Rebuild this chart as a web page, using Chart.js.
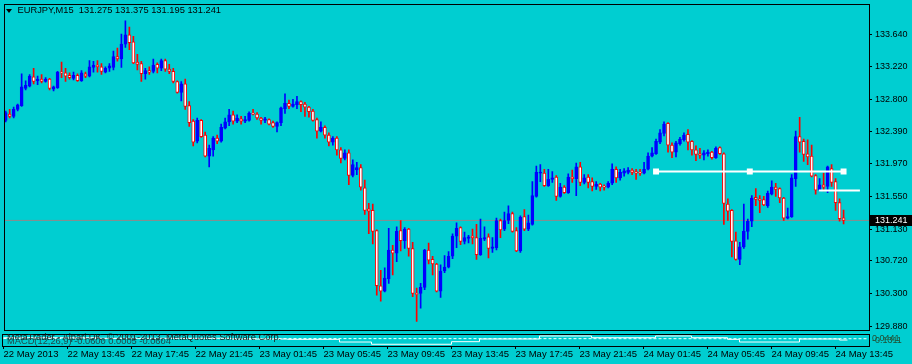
<!DOCTYPE html>
<html>
<head>
<meta charset="utf-8">
<script src="https://cdn.jsdelivr.net/npm/chart.js@4.4.0/dist/chart.umd.min.js"></script>
<style>
  body { margin: 0; background: #00ced1; width: 912px; height: 364px; overflow: hidden; position: relative; font-family: 'Liberation Sans', Arial, sans-serif; }
  canvas { position: absolute; left: 0; }
  #main { top: 0; }
  #macd { top: 333px; }
  .txt { position: absolute; white-space: nowrap; font-size: 9.3px; line-height: 11px; color: #000; }
  #tri { position: absolute; left: 6px; top: 9px; width: 0; height: 0; border-left: 3px solid transparent; border-right: 3px solid transparent; border-top: 4px solid #000; }
</style>
</head>
<body>
<canvas id="main" width="912" height="334"></canvas>
<canvas id="macd" width="912" height="31"></canvas>
<div id="tri"></div>
<div id="title" class="txt" style="left:17.5px;top:5.3px"></div>
<div class="txt" style="left:7px;top:332.3px;color:#1a1a1a">MetaTrader - Alpari UK, © 2001-2013, MetaQuotes Software Corp.</div>
<div class="txt" style="left:7px;top:335.8px;color:#204848">MACD(12,26,9) -0.0600 0.0005 -0.0604</div>
<div class="txt" style="left:872px;top:333.1px;font-size:9px;color:#214f33">0.0441</div>
<div class="txt" style="left:872px;top:335.4px;font-size:9px;color:#214f33">-0.1311</div>
<script>
const symbol = 'EURJPY';
const period = 'M15';

// M15 candles, 22 May 09:45 .. 24 May 14:15
const opens = [
  132.53, 132.61, 132.58, 132.67, 132.72, 132.94, 132.97, 133.09, 133.04, 133.06,
  133.03, 133.06, 132.93, 132.95, 133.15, 133.14, 133.11, 133.07, 133.11, 133.04,
  133.13, 133.10, 133.21, 133.24, 133.22, 133.15, 133.20, 133.21, 133.35, 133.32,
  133.51, 133.63, 133.54, 133.28, 133.26, 133.13, 133.17, 133.16, 133.25, 133.20,
  133.30, 133.19, 133.16, 133.03, 132.89, 133.00, 132.72, 132.52, 132.26, 132.53,
  132.34, 132.07, 132.15, 132.30, 132.26, 132.43, 132.51, 132.60, 132.52, 132.55,
  132.52, 132.53, 132.62, 132.61, 132.56, 132.53, 132.54, 132.50, 132.45, 132.50,
  132.68, 132.75, 132.71, 132.73, 132.77, 132.74, 132.70, 132.65, 132.54, 132.39,
  132.44, 132.34, 132.25, 132.30, 132.15, 132.04, 132.11, 131.82, 131.89, 131.92,
  131.66, 131.39, 131.37, 131.11, 130.40, 130.33, 130.49, 130.86, 130.82, 131.11,
  130.98, 131.13, 130.88, 130.30, 130.30, 130.38, 130.86, 130.74, 130.68, 130.33,
  130.59, 130.64, 130.78, 131.04, 131.15, 130.97, 131.01, 131.04, 131.02, 130.80,
  131.00, 131.03, 130.88, 130.89, 131.24, 131.13, 131.24, 131.33, 131.11, 130.85,
  131.29, 131.13, 131.19, 131.55, 131.85, 131.85, 131.69, 131.77, 131.80, 131.55,
  131.67, 131.60, 131.80, 131.78, 131.93, 131.73, 131.80, 131.74, 131.68, 131.71,
  131.68, 131.67, 131.72, 131.90, 131.79, 131.85, 131.86, 131.89, 131.87, 131.86,
  131.85, 131.90, 132.07, 132.10, 132.25, 132.36, 132.49, 132.21, 132.12, 132.23,
  132.28, 132.35, 132.26, 132.15, 132.10, 132.08, 132.10, 132.12, 132.05, 132.18,
  132.10, 131.45, 131.37, 130.98, 130.74, 130.90, 131.10, 131.23, 131.54, 131.52,
  131.51, 131.43, 131.58, 131.67, 131.65, 131.53, 131.27, 131.29, 131.78, 132.32,
  132.26, 132.10, 132.07, 131.82, 131.63, 131.70, 131.68, 131.91, 131.74, 131.47,
  131.275
];
const highs = [
  132.65, 132.67, 132.70, 132.74, 133.13, 133.04, 133.12, 133.20, 133.10, 133.12,
  133.08, 133.07, 132.97, 133.16, 133.28, 133.20, 133.14, 133.15, 133.13, 133.17,
  133.15, 133.30, 133.29, 133.30, 133.26, 133.22, 133.26, 133.42, 133.46, 133.64,
  133.81, 133.73, 133.61, 133.38, 133.29, 133.20, 133.22, 133.32, 133.27, 133.32,
  133.32, 133.25, 133.20, 133.04, 133.03, 133.06, 132.77, 132.54, 132.56, 132.54,
  132.38, 132.21, 132.32, 132.34, 132.48, 132.56, 132.67, 132.65, 132.60, 132.58,
  132.58, 132.64, 132.67, 132.63, 132.57, 132.57, 132.55, 132.52, 132.51, 132.70,
  132.87, 132.79, 132.80, 132.84, 132.78, 132.76, 132.71, 132.67, 132.56, 132.51,
  132.46, 132.37, 132.32, 132.32, 132.18, 132.15, 132.15, 132.02, 131.99, 131.96,
  131.76, 131.46, 131.45, 131.12, 130.60, 130.63, 131.14, 130.92, 131.16, 131.24,
  131.15, 131.14, 130.96, 130.37, 130.43, 130.87, 130.95, 130.78, 130.69, 130.67,
  130.79, 130.84, 131.07, 131.21, 131.16, 131.09, 131.05, 131.13, 131.19, 131.26,
  131.16, 131.07, 131.02, 131.27, 131.26, 131.35, 131.43, 131.35, 131.15, 131.30,
  131.38, 131.31, 131.74, 131.94, 131.96, 131.90, 131.90, 131.87, 131.82, 131.72,
  131.69, 131.84, 131.89, 131.98, 131.99, 131.83, 131.83, 131.79, 131.74, 131.72,
  131.70, 131.74, 131.97, 131.93, 131.90, 131.91, 131.92, 131.91, 131.90, 131.90,
  131.99, 132.11, 132.18, 132.29, 132.41, 132.51, 132.50, 132.24, 132.26, 132.31,
  132.37, 132.41, 132.27, 132.20, 132.17, 132.14, 132.15, 132.13, 132.19, 132.19,
  132.11, 131.52, 131.38, 131.09, 130.96, 131.45, 131.26, 131.56, 131.65, 131.56,
  131.55, 131.62, 131.75, 131.72, 131.66, 131.54, 131.40, 131.83, 132.39, 132.57,
  132.29, 132.28, 132.21, 131.83, 131.78, 131.85, 131.94, 131.96, 131.78, 131.52,
  131.375
];
const lows = [
  132.51, 132.56, 132.56, 132.65, 132.71, 132.92, 132.96, 133.00, 132.99, 133.01,
  133.02, 132.92, 132.91, 132.94, 133.08, 133.03, 133.06, 133.05, 133.03, 133.03,
  133.08, 133.09, 133.15, 133.15, 133.12, 133.14, 133.16, 133.18, 133.29, 133.21,
  133.47, 133.44, 133.26, 133.18, 133.03, 133.06, 133.12, 133.14, 133.14, 133.17,
  133.16, 133.13, 133.01, 132.88, 132.78, 132.67, 132.45, 132.20, 132.24, 132.31,
  132.06, 131.93, 132.07, 132.23, 132.25, 132.42, 132.46, 132.48, 132.50, 132.48,
  132.50, 132.52, 132.60, 132.54, 132.48, 132.50, 132.47, 132.44, 132.38, 132.46,
  132.62, 132.68, 132.70, 132.68, 132.64, 132.58, 132.57, 132.52, 132.30, 132.38,
  132.30, 132.20, 132.21, 132.08, 131.98, 132.02, 131.70, 131.80, 131.83, 131.63,
  131.32, 131.07, 130.94, 130.28, 130.20, 130.32, 130.43, 130.54, 130.71, 130.85,
  130.88, 130.78, 130.26, 129.94, 130.11, 130.35, 130.68, 130.54, 130.32, 130.25,
  130.57, 130.63, 130.75, 130.89, 130.93, 130.94, 130.95, 130.94, 130.74, 130.79,
  130.98, 130.76, 130.83, 130.86, 131.02, 131.11, 131.20, 131.09, 130.84, 130.83,
  131.11, 131.11, 131.18, 131.54, 131.74, 131.68, 131.68, 131.73, 131.50, 131.54,
  131.59, 131.59, 131.73, 131.56, 131.69, 131.71, 131.66, 131.62, 131.64, 131.62,
  131.63, 131.66, 131.70, 131.73, 131.76, 131.81, 131.84, 131.83, 131.77, 131.82,
  131.84, 131.89, 132.06, 132.09, 132.23, 132.33, 132.12, 132.05, 132.06, 132.21,
  132.26, 132.15, 132.08, 132.01, 132.04, 132.02, 132.07, 132.03, 132.04, 132.09,
  131.19, 131.24, 130.77, 130.73, 130.67, 130.88, 131.00, 131.16, 131.43, 131.34,
  131.43, 131.41, 131.57, 131.55, 131.47, 131.24, 131.26, 131.28, 131.68, 132.12,
  132.00, 131.96, 131.80, 131.58, 131.62, 131.62, 131.60, 131.68, 131.37, 131.23,
  131.195
];
const closes = [
  132.63, 132.58, 132.67, 132.73, 132.96, 132.98, 133.10, 133.03, 133.06, 133.03,
  133.06, 132.94, 132.96, 133.15, 133.14, 133.10, 133.08, 133.11, 133.04, 133.14,
  133.10, 133.22, 133.24, 133.22, 133.16, 133.20, 133.23, 133.35, 133.32, 133.51,
  133.63, 133.53, 133.27, 133.25, 133.13, 133.17, 133.15, 133.24, 133.20, 133.30,
  133.19, 133.16, 133.03, 132.89, 133.00, 132.71, 132.50, 132.25, 132.53, 132.32,
  132.07, 132.17, 132.30, 132.26, 132.44, 132.51, 132.60, 132.52, 132.56, 132.52,
  132.54, 132.62, 132.61, 132.56, 132.53, 132.55, 132.48, 132.45, 132.50, 132.69,
  132.75, 132.71, 132.74, 132.77, 132.73, 132.70, 132.64, 132.53, 132.39, 132.44,
  132.34, 132.25, 132.30, 132.15, 132.04, 132.11, 131.82, 131.96, 131.92, 131.67,
  131.37, 131.36, 131.10, 130.40, 130.33, 130.50, 130.86, 130.82, 131.10, 130.98,
  131.13, 130.88, 130.30, 130.29, 130.38, 130.86, 130.73, 130.68, 130.33, 130.59,
  130.64, 130.78, 131.04, 131.14, 130.97, 131.02, 131.03, 131.02, 130.80, 131.01,
  131.02, 130.88, 130.90, 131.24, 131.12, 131.24, 131.33, 131.10, 130.85, 131.28,
  131.13, 131.21, 131.56, 131.86, 131.86, 131.69, 131.77, 131.79, 131.55, 131.67,
  131.60, 131.80, 131.78, 131.93, 131.73, 131.79, 131.73, 131.68, 131.71, 131.67,
  131.67, 131.72, 131.90, 131.79, 131.86, 131.88, 131.89, 131.86, 131.85, 131.85,
  131.90, 132.07, 132.11, 132.26, 132.37, 132.48, 132.21, 132.12, 132.24, 132.29,
  132.34, 132.25, 132.15, 132.09, 132.08, 132.11, 132.12, 132.05, 132.17, 132.10,
  131.46, 131.36, 130.97, 130.74, 130.90, 131.10, 131.23, 131.53, 131.51, 131.50,
  131.44, 131.59, 131.67, 131.64, 131.53, 131.27, 131.29, 131.79, 132.32, 132.25,
  132.09, 132.06, 131.81, 131.63, 131.70, 131.67, 131.93, 131.73, 131.47, 131.265,
  131.241
];

const yTicks = [133.64, 133.22, 132.80, 132.39, 131.97, 131.55, 131.13, 130.72, 130.30, 129.88];
const timeTickIdx = [0, 16, 32, 48, 64, 80, 96, 112, 128, 144, 160, 176, 192, 208];
const timeLabels = ['22 May 2013', '22 May 13:45', '22 May 17:45', '22 May 21:45', '23 May 01:45',
  '23 May 05:45', '23 May 09:45', '23 May 13:45', '23 May 17:45', '23 May 21:45',
  '24 May 01:45', '24 May 05:45', '24 May 09:45', '24 May 13:45'];

// drawn objects
const trend1X = [163, 186.5, 210];
const trend1Y = [131.872, 131.872, 131.872];
const trend2X = [203.8, 214.1];
const trend2Y = [131.627, 131.627];

// MACD sub window
const macdIdx = [0, 24, 57, 71, 84, 92, 112, 119, 134, 147, 163, 172, 181, 184, 199, 209, 211];
const macdVal = [-0.010, -0.018, -0.030, -0.034, -0.073, -0.106, -0.068, -0.029, 0.015, -0.010,
  0.015, -0.010, -0.034, -0.073, -0.029, -0.044, -0.044];
const sigIdx = [0, 216];
const sigVal = [-0.022, -0.025];

const BLUE = '#0000ff', RED = '#ff0000', WHITE = '#ffffff', BLACK = '#000000';
const FONT = 'Liberation Sans';
const xMin = -0.375, xMax = 216.375;
const yMin = 129.833, yMax = 134.025;
const last = closes.length - 1;
const idx = opens.map((_, i) => i);
const up = i => closes[i] >= opens[i];

document.getElementById('title').textContent = symbol + ',' + period + '\u00a0 ' +
  [opens[last], highs[last], lows[last], closes[last]].map(v => v.toFixed(3)).join(' ');

const frame = {
  id: 'frame',
  afterDraw(chart) {
    const { ctx, chartArea: a } = chart;
    ctx.save();
    ctx.strokeStyle = BLACK;
    ctx.lineWidth = 1;
    ctx.strokeRect(Math.round(a.left) + 0.5, Math.round(a.top) + 0.5,
      Math.round(a.right - a.left), Math.round(a.bottom - a.top));
    ctx.restore();
  }
};

const priceBox = {
  id: 'priceBox',
  afterDraw(chart) {
    const { ctx, chartArea: a } = chart;
    const y = chart.scales.y.getPixelForValue(closes[last]);
    ctx.save();
    ctx.fillStyle = BLACK;
    ctx.fillRect(a.right + 1, Math.round(y) - 5, 43, 11);
    ctx.fillStyle = WHITE;
    ctx.font = '9px "' + FONT + '"';
    ctx.textBaseline = 'middle';
    ctx.fillText(closes[last].toFixed(3), a.right + 6, y + 0.5);
    ctx.restore();
  }
};

new Chart(document.getElementById('main'), {
  type: 'bar',
  data: {
    datasets: [
      {
        type: 'line',
        data: [{ x: -1, y: closes[last] }, { x: 218, y: closes[last] }],
        borderColor: '#8c8c8c',
        borderWidth: 1,
        pointRadius: 0,
        order: 10
      },
      {
        data: idx.map(i => ({ x: i, y: [lows[i], highs[i]] })),
        backgroundColor: c => up(c.dataIndex) ? BLUE : RED,
        borderWidth: 0,
        barThickness: 1,
        grouped: false,
        order: 5
      },
      {
        data: idx.map(i => ({ x: i, y: [opens[i], closes[i]] })),
        backgroundColor: c => up(c.dataIndex) ? BLUE : WHITE,
        borderColor: c => up(c.dataIndex) ? BLUE : RED,
        borderWidth: 1,
        borderSkipped: false,
        barThickness: 3,
        minBarLength: 1,
        grouped: false,
        order: 4
      },
      {
        type: 'line',
        data: trend1X.map((x, k) => ({ x, y: trend1Y[k] })),
        borderColor: WHITE,
        borderWidth: 2,
        pointStyle: 'rect',
        pointRadius: 4.2,
        pointBackgroundColor: WHITE,
        pointBorderWidth: 0,
        order: 1
      },
      {
        type: 'line',
        data: trend2X.map((x, k) => ({ x, y: trend2Y[k] })),
        borderColor: WHITE,
        borderWidth: 2,
        pointRadius: 0,
        order: 1
      }
    ]
  },
  options: {
    responsive: false,
    animation: false,
    devicePixelRatio: 1,
    layout: { padding: { left: 2, top: 2, right: 0, bottom: 2 } },
    plugins: { legend: { display: false }, tooltip: { enabled: false } },
    scales: {
      x: { type: 'linear', min: xMin, max: xMax, offset: false, display: false, grid: { offset: false } },
      y: {
        type: 'linear',
        position: 'right',
        min: yMin,
        max: yMax,
        afterBuildTicks: s => { s.ticks = yTicks.map(v => ({ value: v })); },
        afterFit: s => { s.width = 43; s.paddingTop = 0; s.paddingBottom = 0; },
        grid: { drawOnChartArea: false, drawTicks: true, tickLength: 3, color: BLACK },
        border: { display: false },
        ticks: {
          color: BLACK,
          padding: 3,
          font: { family: FONT, size: 9 },
          callback: v => v.toFixed(3)
        }
      }
    }
  },
  plugins: [frame, priceBox]
});

new Chart(document.getElementById('macd'), {
  type: 'line',
  data: {
    datasets: [
      {
        data: macdIdx.map((x, k) => ({ x, y: macdVal[k] })),
        borderColor: WHITE,
        borderWidth: 1,
        stepped: true,
        pointRadius: 0
      },
      {
        data: sigIdx.map((x, k) => ({ x, y: sigVal[k] })),
        borderColor: WHITE,
        borderWidth: 1,
        borderDash: [3, 2],
        pointRadius: 0
      }
    ]
  },
  options: {
    responsive: false,
    animation: false,
    devicePixelRatio: 1,
    layout: { padding: { left: 2, top: 1, right: 43, bottom: 0 } },
    plugins: { legend: { display: false }, tooltip: { enabled: false } },
    scales: {
      x: {
        type: 'linear',
        min: xMin,
        max: xMax,
        offset: false,
        afterBuildTicks: s => { s.ticks = timeTickIdx.map(v => ({ value: v })); },
        afterFit: s => { s.height = 18; s.paddingLeft = 0; s.paddingRight = 0; },
        grid: { drawOnChartArea: false, drawTicks: true, tickLength: 3, color: BLACK, offset: false },
        border: { display: false },
        ticks: {
          autoSkip: false,
          maxRotation: 0,
          minRotation: 0,
          align: 'start',
          padding: 0,
          color: BLACK,
          font: { family: FONT, size: 9.5 },
          callback: (v, k) => timeLabels[k]
        }
      },
      y: { display: false, min: -0.1311, max: 0.0441 }
    }
  },
  plugins: [frame]
});
</script>
</body>
</html>
